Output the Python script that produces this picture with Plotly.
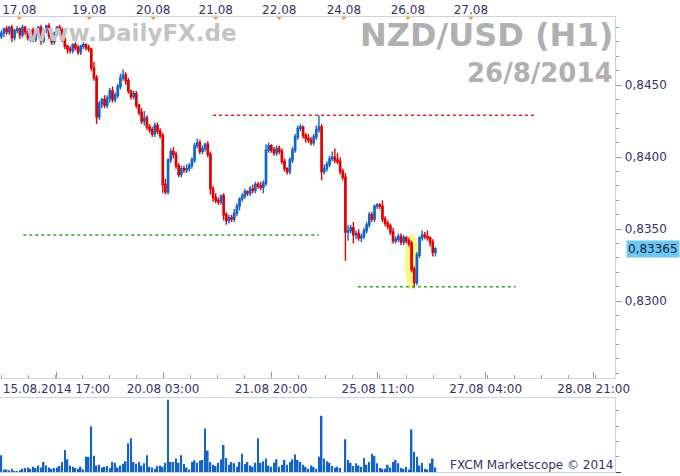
import plotly.graph_objects as go

closes = [
    0.8486, 0.8489, 0.8487, 0.8490, 0.8483, 0.8488, 0.8489, 0.8485, 0.8490, 0.8487,
    0.8483, 0.8488, 0.8482, 0.8486, 0.8490, 0.8481, 0.8488, 0.8491, 0.8484, 0.8480,
    0.8486, 0.8490, 0.8488, 0.8482, 0.8477, 0.8475, 0.8474, 0.8478, 0.8476, 0.8473,
    0.8477, 0.8478, 0.8476, 0.8475, 0.8462, 0.8455, 0.8428, 0.8437, 0.8440, 0.8436,
    0.8441, 0.8446, 0.8440, 0.8443, 0.8449, 0.8455, 0.8457, 0.8453, 0.8446, 0.8442,
    0.8444, 0.8436, 0.8431, 0.8425, 0.8427, 0.8421, 0.8419, 0.8416, 0.8422, 0.8418,
    0.8415, 0.8381, 0.8376, 0.8398, 0.8404, 0.8402, 0.8394, 0.8388, 0.8392, 0.8391,
    0.8392, 0.8394, 0.8398, 0.8408, 0.8410, 0.8404, 0.8406, 0.8409, 0.8402, 0.8378,
    0.8372, 0.8370, 0.8369, 0.8373, 0.8360, 0.8356, 0.8358, 0.8357, 0.8361, 0.8366,
    0.8371, 0.8373, 0.8376, 0.8375, 0.8378, 0.8377, 0.8381, 0.8380, 0.8379, 0.8382,
    0.8405, 0.8408, 0.8405, 0.8403, 0.8406, 0.8404, 0.8397, 0.8392, 0.8390, 0.8398,
    0.8405, 0.8414, 0.8420, 0.8421, 0.8415, 0.8413, 0.8412, 0.8410, 0.8414, 0.8419,
    0.8421, 0.8390, 0.8392, 0.8395, 0.8399, 0.8400, 0.8398, 0.8397, 0.8390, 0.8386,
    0.8348, 0.8349, 0.8351, 0.8346, 0.8347, 0.8344, 0.8345, 0.8349, 0.8353, 0.8360,
    0.8357, 0.8366, 0.8367, 0.8366, 0.8357, 0.8354, 0.8352, 0.8348, 0.8342, 0.8343,
    0.8345, 0.8341, 0.8344, 0.8342, 0.8340, 0.8322, 0.8313, 0.8332, 0.8344, 0.8346,
    0.8345, 0.8344, 0.8341, 0.8334, 0.83365,
]
first_open = 0.8484

# wick lengths in pips above / below the body
wick_up = [
    2, 1, 2, 1, 2, 1, 2, 1, 2, 1,
    2, 1, 2, 2, 1, 2, 1, 1, 2, 2,
    1, 1, 2, 2, 1, 1, 2, 1, 2, 2,
    1, 2, 1, 2, 1, 4, 2, 2, 1, 3,
    2, 2, 3, 2, 2, 3, 4, 2, 2, 1,
    2, 2, 1, 3, 5, 2, 2, 2, 2, 2,
    2, 2, 4, 1, 2, 3, 2, 2, 2, 2,
    3, 2, 2, 2, 3, 2, 2, 1, 2, 2,
    2, 3, 2, 1, 2, 2, 2, 2, 3, 2,
    1, 2, 2, 1, 2, 3, 2, 2, 3, 2,
    4, 2, 1, 2, 2, 2, 2, 2, 1, 2,
    2, 2, 2, 2, 1, 2, 3, 2, 2, 3,
    8, 2, 3, 2, 2, 4, 6, 5, 3, 2,
    3, 4, 2, 4, 2, 3, 2, 2, 2, 2,
    2, 1, 1, 1, 4, 2, 2, 2, 3, 2,
    2, 2, 2, 1, 2, 2, 2, 2, 1, 3,
    2, 4, 1, 2, 1,
]
wick_dn = [
    2, 3, 2, 2, 3, 2, 2, 3, 2, 2,
    2, 3, 2, 2, 2, 3, 2, 2, 2, 2,
    2, 2, 2, 2, 2, 3, 2, 2, 2, 2,
    2, 2, 2, 2, 2, 2, 5, 2, 3, 2,
    2, 3, 2, 2, 2, 2, 2, 3, 2, 2,
    2, 2, 2, 2, 3, 2, 2, 2, 2, 2,
    2, 6, 2, 2, 2, 3, 2, 2, 2, 2,
    2, 2, 2, 2, 2, 2, 2, 2, 2, 4,
    3, 2, 2, 2, 4, 3, 2, 2, 2, 2,
    3, 2, 2, 2, 2, 2, 2, 2, 2, 4,
    2, 2, 2, 2, 2, 2, 2, 2, 2, 2,
    2, 2, 2, 2, 2, 3, 2, 2, 2, 2,
    2, 6, 2, 2, 2, 2, 2, 2, 2, 2,
    20, 6, 2, 6, 3, 2, 3, 2, 2, 2,
    2, 2, 2, 2, 2, 2, 2, 2, 2, 2,
    2, 2, 2, 2, 2, 2, 4, 2, 2, 2,
    2, 2, 3, 3, 3,
]
volumes = [
    50, 8, 8, 6, 10, 3, 2, 6, 10, 12,
    14, 10, 16, 12, 20, 14, 30, 20, 14, 10,
    12, 14, 18, 30, 65, 38, 20, 16, 12, 10,
    16, 8, 45, 45, 135, 48, 20, 22, 14, 16,
    18, 12, 30, 28, 14, 20, 25, 32, 85, 100,
    30, 25, 30, 20, 26, 50, 16, 14, 10, 18,
    20, 16, 28, 213, 30, 30, 40, 28, 50, 24,
    14, 8, 30, 35, 28, 34, 36, 128, 64, 30,
    22, 18, 28, 38, 80, 42, 22, 30, 26, 16,
    30, 54, 24, 30, 20, 16, 28, 100, 28, 32,
    40, 20, 16, 28, 38, 16, 22, 36, 22, 30,
    38, 52, 36, 30, 22, 16, 10, 20, 16, 10,
    45, 166, 40, 32, 28, 18, 14, 16, 12, 0,
    97, 36, 28, 18, 26, 20, 16, 42, 22, 30,
    54, 48, 26, 12, 10, 10, 22, 14, 30, 36,
    26, 12, 10, 16, 8, 125, 60, 45, 20, 28,
    10, 8, 26, 40, 14,
]

bottom_ticks = [20.8, 61.1, 101.9, 142.3, 183.0, 223.8]
bottom_labels = ["15.08.2014 17:00", "20.08 03:00", "21.08 20:00",
                 "25.08 11:00", "27.08 04:00", "28.08 21:00"]
top_ticks = [6.8, 33.2, 57.4, 81.0, 105.0, 129.4, 153.6, 177.4]
top_labels = ["17.08", "19.08", "20.08", "21.08", "22.08", "24.08", "26.08", "27.08"]
price_ticks = [0.8300, 0.8350, 0.8400, 0.8450]
price_labels = ["0,8300", "0,8350", "0,8400", "0,8450"]
resistance = 0.8429
support_a = 0.8346
support_b = 0.8310

idx = list(range(len(closes)))
opens = [first_open] + closes[:-1]
pip = 0.0001
highs = [max(o, c) + u * pip for o, c, u in zip(opens, closes, wick_up)]
lows = [min(o, c) - d * pip for o, c, d in zip(opens, closes, wick_dn)]

BLUE = "#1464c8"
RED = "#e00000"
XMAX = 232
YMIN, YMAX = 0.82467, 0.84972

fig = go.Figure()
fig.add_trace(go.Candlestick(
    x=idx, open=opens, high=highs, low=lows, close=closes,
    increasing=dict(line=dict(color=BLUE, width=1.4), fillcolor=BLUE),
    decreasing=dict(line=dict(color=RED, width=1.4), fillcolor=RED),
    whiskerwidth=0, showlegend=False, hoverinfo="skip"))

# level lines
for lvl, x0, x1, col in [(resistance, 80, 202, "#ee2020"),
                         (support_a, 8.3, 120, "#30a030"),
                         (support_b, 134.7, 194.3, "#30a030")]:
    fig.add_shape(type="line", x0=x0, x1=x1, y0=lvl, y1=lvl, xref="x", yref="y",
                  line=dict(color=col, width=1.5, dash="dot"))

# highlight around the low
fig.add_shape(type="circle", xref="x", yref="y", x0=152.4, x1=157.8,
              y0=lows[156] - 0.00008, y1=0.8347, fillcolor="rgba(255,240,60,0.6)",
              line=dict(width=0), layer="below")

fig.add_trace(go.Bar(x=idx, y=volumes, xaxis="x2", yaxis="y2",
                     marker=dict(color=BLUE, line=dict(width=0)),
                     width=0.6, showlegend=False, hoverinfo="skip"))

# orange day markers along the top
fig.add_trace(go.Scatter(x=top_ticks, y=[YMAX] * len(top_ticks), mode="markers",
                         marker=dict(symbol="triangle-down", size=6, color="#f0a030"),
                         cliponaxis=False, showlegend=False, hoverinfo="skip"))

dom_x = [0, 0.905]
tick_font = dict(size=12, color="#333366", family="DejaVu Sans")
fig.update_layout(
    width=680, height=476, margin=dict(l=0, r=0, t=0, b=0, autoexpand=False),
    paper_bgcolor="white", plot_bgcolor="white",
    font=dict(family="DejaVu Sans", size=12, color="#333366"),
    xaxis=dict(domain=dom_x, range=[-0.5, XMAX], rangeslider=dict(visible=False),
               tickvals=bottom_ticks, ticktext=bottom_labels, ticks="inside",
               ticklen=6, tickcolor="#999999", showgrid=False, zeroline=False,
               showline=True, linecolor="#c8d4e4", mirror=True, automargin=False,
               tickfont=tick_font,
               minor=dict(ticks="inside", ticklen=3, dtick=10.2, tickcolor="#999999")),
    xaxis3=dict(overlaying="x", side="top", range=[-0.5, XMAX], anchor="y",
                tickvals=top_ticks, ticktext=top_labels, ticks="", showgrid=False,
                zeroline=False, automargin=False, tickfont=tick_font),
    yaxis=dict(domain=[0.206, 0.964], range=[YMIN, YMAX], side="right",
               tickvals=price_ticks, ticktext=price_labels, ticks="outside",
               ticklen=6, tickcolor="#999999", showgrid=False, zeroline=False,
               showline=True, linecolor="#c8d4e4", mirror=True, automargin=False,
               tickfont=tick_font,
               minor=dict(ticks="outside", ticklen=3, dtick=0.001, tickcolor="#999999")),
    xaxis2=dict(domain=dom_x, range=[-0.5, XMAX], anchor="y2", showticklabels=False,
                showgrid=False, zeroline=False, showline=True, automargin=False,
                linecolor="#c8d4e4", mirror=True),
    yaxis2=dict(domain=[0.008, 0.164], range=[0, 218], side="right", anchor="x2",
                tickvals=[0], ticktext=["0"], ticks="outside", ticklen=5,
                showgrid=False, zeroline=False, showline=True, automargin=False,
                linecolor="#c8d4e4", mirror=True, tickfont=tick_font,
                minor=dict(ticks="outside", ticklen=3, dtick=45, tickcolor="#999999")),
    bargap=0.3,
)
fig.data[2].update(xaxis="x3")

fig.add_annotation(x=0.035, y=0.962, xref="paper", yref="paper", text="<b>www.DailyFX.de</b>",
                   showarrow=False, xanchor="left", yanchor="top",
                   font=dict(size=23, color="#c4c4c4", family="DejaVu Sans"))
fig.add_annotation(x=0.905, y=0.97, xref="paper", yref="paper", text="<b>NZD/USD (H1)</b>",
                   showarrow=False, xanchor="right", yanchor="top",
                   font=dict(size=32, color="#b0b0b0", family="DejaVu Sans"))
fig.add_annotation(x=0.905, y=0.882, xref="paper", yref="paper", text="<b>26/8/2014</b>",
                   showarrow=False, xanchor="right", yanchor="top",
                   font=dict(size=26, color="#b0b0b0", family="DejaVu Sans"))
fig.add_annotation(x=1.0, y=closes[-1], xref="paper", yref="y", text="0,83365",
                   showarrow=False, xanchor="right", bgcolor="#6cc8f0",
                   font=dict(size=12, color="#102040"), borderpad=1)
fig.add_annotation(x=0.905, y=0.005, xref="paper", yref="paper",
                   text="FXCM Marketscope © 2014", showarrow=False,
                   xanchor="right", yanchor="bottom",
                   font=dict(size=12, color="#333366"))

fig.write_html("out.html", config={"displayModeBar": False},
               post_script="document.body.style.margin='0';")
